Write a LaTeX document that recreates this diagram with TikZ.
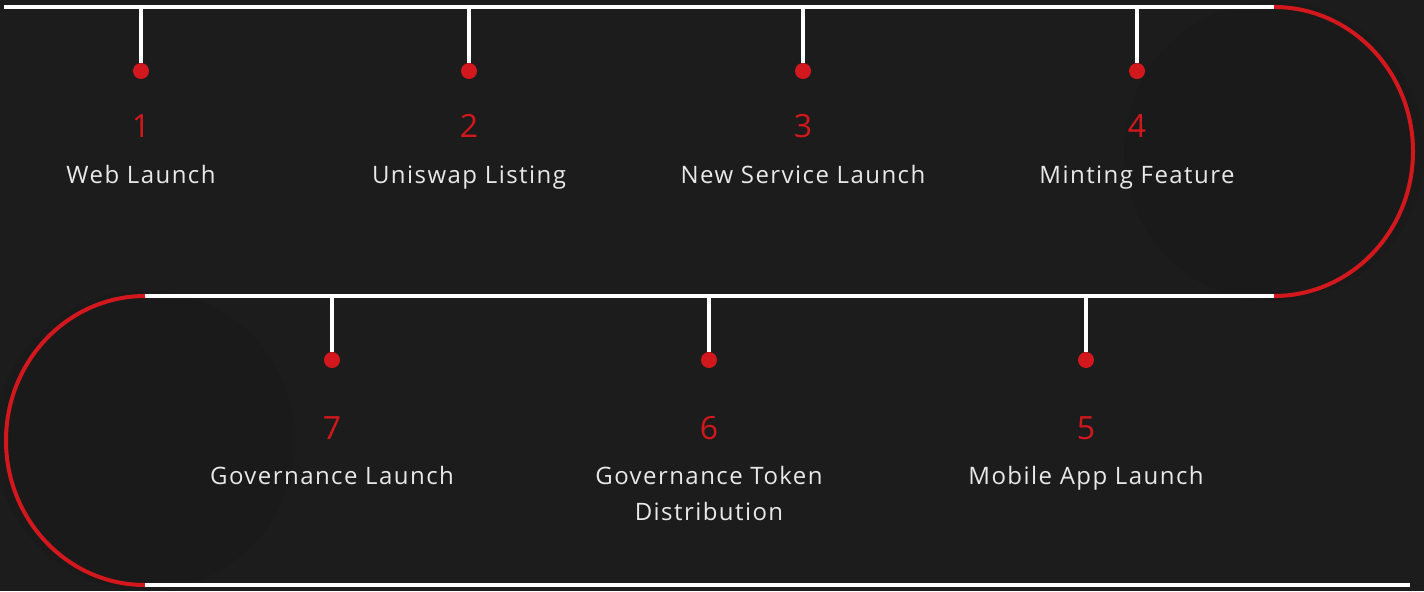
\documentclass[tikz,border=0pt]{standalone}
\usepackage{fontspec}
\setmainfont{Open Sans}[LetterSpace=6]
\usetikzlibrary{positioning}

\definecolor{roadbg}{HTML}{1C1C1C}
\definecolor{roadshade}{HTML}{1A1A1A}
\definecolor{roadred}{HTML}{D3181D}
\definecolor{roadtext}{HTML}{E8E8E8}

\tikzset{
  road/.style={white, line width=2pt},
  curveline/.style={roadred, line width=2pt},
  dot/.style={circle, fill=roadred, inner sep=0pt, minimum size=8pt},
  num/.style={text=roadred, inner sep=0pt, anchor=base, font=\fontsize{16}{18}\selectfont},
  stepname/.style={text=roadtext, inner sep=0pt, anchor=base, align=center, font=\fontsize{12}{18}\selectfont}
}

\begin{document}
\begin{tikzpicture}[x=0.5pt,y=-0.5pt]
   \fill[roadbg] (0,0) rectangle (1424,591);
   \useasboundingbox (0,0) rectangle (1424,591);
   \fill[roadshade] (1274,151.5) circle (75pt);
   \fill[roadshade] (145,440.5) circle (75pt);

   % the road
   \coordinate (a) at (4,7);
   \coordinate (b) at (1274,7);
   \coordinate (c) at (1274,296);
   \coordinate (d) at (145,296);
   \coordinate (e) at (145,585);
   \coordinate (f) at (1410,585);
   \draw[road] (a) -- (b);
   \draw[curveline] (b) arc[start angle=90, end angle=-90, x radius=69.5pt, y radius=72.25pt];
   \draw[road] (c) -- (d);
   \draw[curveline] (d) arc[start angle=90, end angle=270, x radius=69.5pt, y radius=72.25pt];
   \draw[road] (e) -- (f);

   % top row
   \coordinate (s1) at (141,7);
   \node[dot] (d1) at (141,71) {};
   \draw[road] (s1) -- (d1);
   \node[num] (n1) at (141,137) {1};
   \node[stepname] (l1) at (141,183) {Web Launch};

   \coordinate (s2) at (469,7);
   \node[dot] (d2) at (469,71) {};
   \draw[road] (s2) -- (d2);
   \node[num] (n2) at (469,137) {2};
   \node[stepname] (l2) at (469,183) {Uniswap Listing};

   \coordinate (s3) at (803,7);
   \node[dot] (d3) at (803,71) {};
   \draw[road] (s3) -- (d3);
   \node[num] (n3) at (803,137) {3};
   \node[stepname] (l3) at (803,183) {New Service Launch};

   \coordinate (s4) at (1137,7);
   \node[dot] (d4) at (1137,71) {};
   \draw[road] (s4) -- (d4);
   \node[num] (n4) at (1137,137) {4};
   \node[stepname] (l4) at (1137,183) {Minting Feature};

   % bottom row
   \coordinate (s5) at (1086,296);
   \node[dot] (d5) at (1086,360) {};
   \draw[road] (s5) -- (d5);
   \node[num] (n5) at (1086,439) {5};
   \node[stepname] (l5) at (1086,484) {Mobile App Launch};

   \coordinate (s6) at (709,296);
   \node[dot] (d6) at (709,360) {};
   \draw[road] (s6) -- (d6);
   \node[num] (n6) at (709,439) {6};
   \node[stepname] (l6) at (709,520) {Governance Token\\Distribution};

   \coordinate (s7) at (332,296);
   \node[dot] (d7) at (332,360) {};
   \draw[road] (s7) -- (d7);
   \node[num] (n7) at (332,439) {7};
   \node[stepname] (l7) at (332,484) {Governance Launch};
\end{tikzpicture}
\end{document}
